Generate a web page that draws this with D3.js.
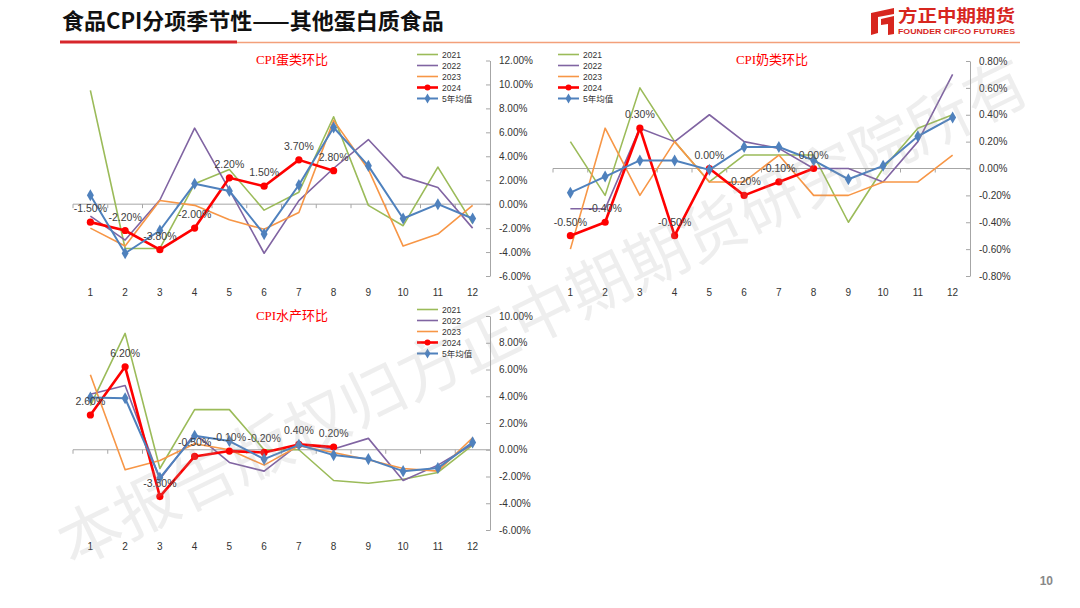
<!DOCTYPE html>
<html><head><meta charset="utf-8">
<script src="https://cdn.jsdelivr.net/npm/d3@7"></script>
<style>body{margin:0;background:#fff}svg{display:block}</style>
</head><body><svg id="c" width="1080" height="608"></svg>
<script>
const months = ["1","2","3","4","5","6","7","8","9","10","11","12"];
const seriesNames = ["2021","2022","2023","2024","5年均值"];
const seriesColors = ["#9BBB59","#8064A2","#F79646","#FF0000","#4F81BD"];

// CPI 蛋类环比 (%)
const egg2021 = [9.5,-3.7,-3.7,1.7,2.9,-0.5,1.0,7.3,-0.1,-1.8,3.1,-1.6];
const egg2022 = [-1.0,-3.0,0.35,6.35,1.2,-4.1,0.3,3.0,5.4,2.3,1.4,-2.0];
const egg2023 = [-2.0,-3.5,0.3,-0.1,-1.3,-2.1,-0.7,7.0,2.9,-3.5,-2.5,-0.1];
const egg2024 = [-1.5,-2.2,-3.8,-2.0,2.2,1.5,3.7,2.8];
const eggAvg  = [0.75,-4.1,-2.2,1.7,1.1,-2.5,1.6,6.4,3.2,-1.2,0.0,-1.2];
const eggTicks = [-6,-4,-2,0,2,4,6,8,10,12];

// CPI 奶类环比 (%)
const milk2021 = [0.2,-0.2,0.6,0.2,-0.1,0.1,0.1,0.1,-0.4,0.0,0.3,0.4];
const milk2022 = [-0.3,-0.3,0.3,0.2,0.4,0.2,0.15,0.0,0.0,-0.1,0.2,0.7];
const milk2023 = [-0.6,0.3,-0.2,0.2,-0.1,-0.1,0.1,-0.2,-0.2,-0.1,-0.1,0.1];
const milk2024 = [-0.5,-0.4,0.3,-0.5,0.0,-0.2,-0.1,0.0];
const milkAvg  = [-0.18,-0.06,0.06,0.06,-0.01,0.16,0.16,0.06,-0.08,0.02,0.24,0.38];
const milkTicks = [-0.8,-0.6,-0.4,-0.2,0,0.2,0.4,0.6,0.8];

// CPI 水产环比 (%)
const fish2021 = [3.3,8.7,-1.4,3.0,3.0,0.0,0.0,-2.3,-2.5,-2.2,-1.7,0.35];
const fish2022 = [4.15,4.8,-2.2,1.2,-0.95,-1.6,0.4,0.05,0.85,-2.3,-1.15,0.4];
const fish2023 = [5.6,-1.5,-0.8,0.45,0.0,-1.15,0.3,-0.2,-0.75,-1.4,-1.6,0.9];
const fish2024 = [2.6,6.2,-3.5,-0.5,-0.1,-0.2,0.4,0.2];
const fishAvg  = [3.9,3.85,-2.1,1.05,0.65,-0.7,0.37,-0.4,-0.7,-1.6,-1.37,0.55];
const fishTicks = [-6,-4,-2,0,2,4,6,8,10];

const pageTitle = "食品CPI分项季节性——其他蛋白质食品";
const watermark = "本报告版权归方正中期期货研究院所有";

const svg = d3.select("#c");
const fmt = v => v.toFixed(2) + "%";
const NUM = "'Liberation Sans', Arial, sans-serif";
const CJK = "'Noto Sans CJK SC', sans-serif";

// header
svg.append("text").attr("x",62).attr("y",29).text(pageTitle)
  .attr("font-family",CJK).attr("font-weight","bold").attr("font-size",22).attr("fill","#111");
svg.append("line").attr("x1",60).attr("x2",237).attr("y1",42).attr("y2",42).attr("stroke","#D7262B").attr("stroke-width",3);
svg.append("line").attr("x1",237).attr("x2",1020).attr("y1",42.5).attr("y2",42.5).attr("stroke","#F3A07A").attr("stroke-width",1.6);

// logo
const logo = svg.append("g");
logo.append("path").attr("d","M871,13 L894,8 L894,14 L878,17 L878,33 L871,35 Z").attr("fill","#D7261E");
logo.append("path").attr("d","M881,19 L894,16 L894,34 L888,35 L888,24 L881,25 Z").attr("fill","#D7261E");
logo.append("text").attr("x",898).attr("y",22).text("方正中期期货")
  .attr("font-family",CJK).attr("font-weight","bold").attr("font-size",16.5).attr("fill","#D7261E")
  .attr("textLength",117).attr("lengthAdjust","spacingAndGlyphs");
logo.append("text").attr("x",898).attr("y",33.5).text("FOUNDER CIFCO FUTURES")
  .attr("font-family",NUM).attr("font-weight","bold").attr("font-size",7).attr("fill","#D7261E")
  .attr("textLength",117).attr("lengthAdjust","spacingAndGlyphs");

// page number
svg.append("text").attr("x",1053).attr("y",585).attr("text-anchor","end").text("10")
  .attr("font-family",NUM).attr("font-weight","bold").attr("font-size",12).attr("fill","#888");

function drawChart(cfg){
  const g = svg.append("g");
  const x = d3.scaleBand().domain(months).range([cfg.x0,cfg.x1]).paddingInner(0).paddingOuter(0);
  const y = d3.scaleLinear().domain(cfg.domain).range([cfg.yb,cfg.yt]);
  const cx = m => x(m) + x.bandwidth()/2;

  // y axis (right)
  const ax = g.append("g").attr("transform",`translate(${cfg.x1},0)`)
    .call(d3.axisRight(y).tickValues(cfg.ticks).tickFormat(fmt).tickSizeInner(-4).tickSizeOuter(0).tickPadding(9));
  ax.select(".domain").attr("stroke","#A6A6A6");
  ax.selectAll(".tick line").attr("stroke","#A6A6A6");
  ax.selectAll(".tick text").attr("font-family",NUM).attr("font-size",10).attr("fill","#333");

  // x axis at zero
  const y0 = y(0);
  g.append("line").attr("x1",cfg.x0).attr("x2",cfg.x1).attr("y1",y0).attr("y2",y0).attr("stroke","#A6A6A6");
  g.selectAll(".xt").data(months).join("line")
    .attr("x1",d=>x(d)).attr("x2",d=>x(d)).attr("y1",y0).attr("y2",y0+4).attr("stroke","#A6A6A6");
  g.selectAll(".xl").data(months).join("text")
    .attr("x",d=>cx(d)).attr("y",cfg.yb+20).attr("text-anchor","middle").text(d=>d)
    .attr("font-family",NUM).attr("font-size",10).attr("fill","#333");

  // title
  g.append("text").attr("x",cfg.tx).attr("y",cfg.ty).attr("text-anchor","middle").text(cfg.title)
    .attr("font-family","'Liberation Serif','Noto Sans CJK SC',serif").attr("font-weight","normal")
    .attr("font-size",13).attr("fill","#FF0000");

  const line = d3.line().x((d,i)=>cx(months[i])).y(d=>y(d));
  const series = cfg.series;
  series.forEach((vals,k)=>{
    const isRed = k===3, isAvg = k===4;
    g.append("path").datum(vals).attr("d",line).attr("fill","none")
      .attr("stroke",seriesColors[k]).attr("stroke-width",isRed?2.6:(isAvg?2:1.6))
      .attr("stroke-linejoin","round");
    if(isRed){
      g.selectAll(null).data(vals).join("circle")
        .attr("cx",(d,i)=>cx(months[i])).attr("cy",d=>y(d)).attr("r",3.6).attr("fill","#FF0000");
    }
    if(isAvg){
      g.selectAll(null).data(vals).join("path")
        .attr("transform",(d,i)=>`translate(${cx(months[i])},${y(d)})`)
        .attr("d",d3.symbol(d3.symbolDiamond,42)).attr("fill","#4F81BD");
    }
  });
  // data labels for 2024
  g.selectAll(null).data(series[3]).join("text")
    .attr("x",(d,i)=>cx(months[i])).attr("y",d=>y(d)-10).attr("text-anchor","middle").text(fmt)
    .attr("font-family",NUM).attr("font-size",10.5).attr("fill","#404040");

  // legend
  const lg = g.append("g");
  seriesNames.forEach((n,k)=>{
    const ly = cfg.ly + k*11;
    lg.append("line").attr("x1",cfg.lx).attr("x2",cfg.lx+21).attr("y1",ly).attr("y2",ly)
      .attr("stroke",seriesColors[k]).attr("stroke-width",k===3?2.6:(k===4?2:1.6));
    if(k===3) lg.append("circle").attr("cx",cfg.lx+10.5).attr("cy",ly).attr("r",3).attr("fill","#FF0000");
    if(k===4) lg.append("path").attr("transform",`translate(${cfg.lx+10.5},${ly})`).attr("d",d3.symbol(d3.symbolDiamond,30)).attr("fill","#4F81BD");
    lg.append("text").attr("x",cfg.lx+25).attr("y",ly+3).text(n)
      .attr("font-family",NUM+", 'Noto Sans CJK SC'").attr("font-size",8.5).attr("fill","#333");
  });
}

drawChart({x0:73,x1:490,yt:60.5,yb:276,domain:[-6,12],ticks:eggTicks,
  series:[egg2021,egg2022,egg2023,egg2024,eggAvg],title:"CPI蛋类环比",tx:292,ty:64,lx:417,ly:54.5});
drawChart({x0:553,x1:970,yt:61,yb:276,domain:[-0.8,0.8],ticks:milkTicks,
  series:[milk2021,milk2022,milk2023,milk2024,milkAvg],title:"CPI奶类环比",tx:772,ty:64,lx:558,ly:54.5});
drawChart({x0:73,x1:490,yt:316,yb:530,domain:[-6,10],ticks:fishTicks,
  series:[fish2021,fish2022,fish2023,fish2024,fishAvg],title:"CPI水产环比",tx:292,ty:320,lx:417,ly:309.5});

// watermark
svg.append("text").attr("transform","translate(541,308) rotate(-26)").attr("text-anchor","middle")
  .attr("dominant-baseline","central").text(watermark)
  .attr("font-family",CJK).attr("font-size",63).attr("fill","rgba(160,160,160,0.18)")
  .attr("pointer-events","none");
</script></body></html>
